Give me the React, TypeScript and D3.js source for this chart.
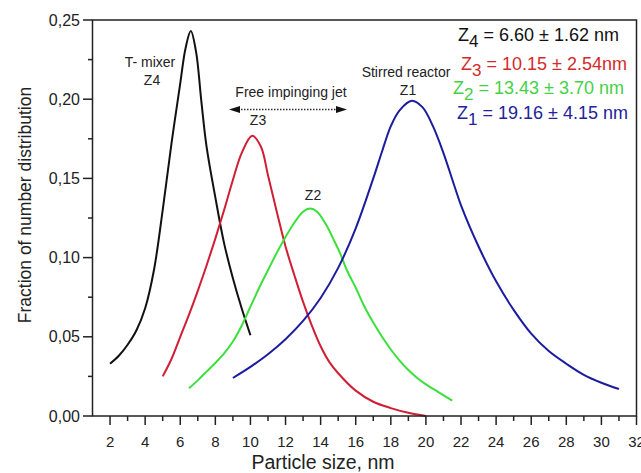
import { useEffect, useRef } from "react";
import * as d3 from "d3";

// curves: particle size (nm) -> fraction of number distribution
const z4X = [2.0, 2.5, 3.0, 3.5, 4.0, 4.5, 5.0, 5.5, 6.0, 6.3, 6.6, 6.9, 7.2, 7.5, 8.0, 8.5, 9.0, 9.5, 10.0];
const z4Y = [0.033, 0.038, 0.045, 0.054, 0.068, 0.092, 0.13, 0.172, 0.21, 0.232, 0.243, 0.23, 0.199, 0.17, 0.138, 0.109, 0.087, 0.068, 0.051];

const z3X = [5.0, 5.5, 6.0, 6.5, 7.0, 7.5, 8.0, 8.5, 9.0, 9.5, 10.1, 10.6, 11.0, 11.5, 12.0, 12.5, 13.0, 13.5, 14.0, 14.5, 15.0, 16.0, 17.0, 18.0, 19.0, 20.0];
const z3Y = [0.025, 0.036, 0.05, 0.064, 0.079, 0.095, 0.112, 0.13, 0.149, 0.166, 0.177, 0.17, 0.152, 0.129, 0.107, 0.089, 0.072, 0.057, 0.044, 0.034, 0.027, 0.016, 0.009, 0.005, 0.002, 0.0];

const z2X = [6.5, 7.0, 7.5, 8.0, 8.5, 9.0, 9.5, 10.0, 10.5, 11.0, 11.5, 12.0, 12.5, 13.0, 13.4, 13.8, 14.3, 14.8, 15.1, 15.5, 16.0, 16.5, 17.0, 17.5, 18.0, 18.5, 19.0, 19.5, 20.0, 20.8, 21.5];
const z2Y = [0.0175, 0.0225, 0.028, 0.0335, 0.0395, 0.047, 0.057, 0.069, 0.081, 0.092, 0.103, 0.113, 0.122, 0.129, 0.131, 0.129, 0.121, 0.11, 0.103, 0.092, 0.081, 0.069, 0.059, 0.05, 0.042, 0.035, 0.029, 0.024, 0.02, 0.0145, 0.0097];

const z1X = [9.0, 10.0, 11.0, 12.0, 13.0, 14.0, 15.0, 16.0, 17.0, 17.5, 18.0, 18.5, 19.2, 19.8, 20.4, 21.0, 21.6, 22.0, 23.0, 24.0, 25.0, 26.0, 27.0, 28.0, 29.0, 30.0, 31.0];
const z1Y = [0.024, 0.031, 0.039, 0.0485, 0.06, 0.0745, 0.0935, 0.1185, 0.15, 0.167, 0.183, 0.193, 0.199, 0.195, 0.183, 0.166, 0.146, 0.133, 0.107, 0.085, 0.067, 0.052, 0.041, 0.033, 0.026, 0.021, 0.017];

const seriesColors = ["#111111", "#d01e34", "#3ce03c", "#1c1c9e"];
const legendColors = ["#111111", "#d42a2a", "#46d046", "#22229a"];
const legendSub = ["4", "3", "2", "1"];
const legendText = [" = 6.60 ± 1.62 nm", " = 10.15 ± 2.54nm", " = 13.43 ± 3.70 nm", " = 19.16 ± 4.15 nm"];

const xMajor = d3.range(2, 33, 2);
const xMinor = d3.range(3, 32, 2);
const yMajor = [0, 0.05, 0.1, 0.15, 0.2, 0.25];
const yMinor = [0.025, 0.075, 0.125, 0.175, 0.225];

export default function App() {
  const ref = useRef<SVGSVGElement>(null);

  useEffect(() => {
    const svg = d3.select(ref.current);
    svg.selectAll("*").remove();
    const font = "'Liberation Sans', Arial, sans-serif";

    const x = d3.scaleLinear().domain([1, 32]).range([92.5, 636.5]);
    const y = d3.scaleLinear().domain([0, 0.25]).range([416, 20]);

    const fmt = (v: number) => d3.format(".2f")(v).replace(".", ",");

    // curves
    const line = d3
      .line<[number, number]>()
      .x((d) => x(d[0]))
      .y((d) => y(d[1]))
      .curve(d3.curveCatmullRom.alpha(0.5));

    const all = [
      [z4X, z4Y],
      [z3X, z3Y],
      [z2X, z2Y],
      [z1X, z1Y],
    ];
    all.forEach(([xs, ys], i) => {
      svg
        .append("path")
        .attr("d", line(xs.map((v, k) => [v, ys[k]] as [number, number])))
        .attr("fill", "none")
        .attr("stroke", seriesColors[i])
        .attr("stroke-width", 2);
    });

    // frame
    svg
      .append("rect")
      .attr("x", x(1))
      .attr("y", y(0.25))
      .attr("width", x(32) - x(1))
      .attr("height", y(0) - y(0.25))
      .attr("fill", "none")
      .attr("stroke", "#222")
      .attr("stroke-width", 1.5);

    const ax = svg.append("g").attr("stroke", "#222").attr("stroke-width", 1.5);
    ax.selectAll(".xM").data(xMajor).join("line")
      .attr("x1", (d) => x(d)).attr("x2", (d) => x(d))
      .attr("y1", 416).attr("y2", 425);
    ax.selectAll(".xm").data(xMinor).join("line")
      .attr("x1", (d) => x(d)).attr("x2", (d) => x(d))
      .attr("y1", 416).attr("y2", 421);
    ax.selectAll(".yM").data(yMajor).join("line")
      .attr("y1", (d) => y(d)).attr("y2", (d) => y(d))
      .attr("x1", 83).attr("x2", 92.5);
    ax.selectAll(".ym").data(yMinor).join("line")
      .attr("y1", (d) => y(d)).attr("y2", (d) => y(d))
      .attr("x1", 88).attr("x2", 92.5);

    svg.append("g").selectAll("text").data(xMajor).join("text")
      .attr("x", (d) => x(d)).attr("y", 447)
      .attr("text-anchor", "middle")
      .attr("font-family", font).attr("font-size", 15).attr("fill", "#222")
      .text((d) => d);

    svg.append("g").selectAll("text").data(yMajor).join("text")
      .attr("x", 80).attr("y", (d) => y(d) + 5.5)
      .attr("text-anchor", "end")
      .attr("font-family", font).attr("font-size", 16).attr("fill", "#222")
      .text((d) => fmt(d));

    svg.append("text")
      .attr("x", 323).attr("y", 469)
      .attr("text-anchor", "middle")
      .attr("font-family", font).attr("font-size", 19.5).attr("fill", "#222")
      .text("Particle size, nm");

    svg.append("text")
      .attr("transform", "translate(31,205) rotate(-90)")
      .attr("text-anchor", "middle")
      .attr("font-family", font).attr("font-size", 17.5).attr("fill", "#222")
      .text("Fraction of number distribution");

    // annotations
    const note = (tx: number, ty: number, s: string) =>
      svg.append("text")
        .attr("x", tx).attr("y", ty)
        .attr("text-anchor", "middle")
        .attr("font-family", font).attr("font-size", 14).attr("fill", "#222")
        .text(s);
    note(150, 67, "T- mixer");
    note(152, 85, "Z4");
    note(291, 97, "Free impinging jet");
    note(258, 125, "Z3");
    note(313, 200, "Z2");
    note(406, 77, "Stirred reactor");
    note(408, 95, "Z1");

    // double-headed dotted arrow
    const ay = 109.5;
    svg.append("line")
      .attr("x1", 238).attr("x2", 338).attr("y1", ay).attr("y2", ay)
      .attr("stroke", "#333").attr("stroke-width", 1.3)
      .attr("stroke-dasharray", "1.5,1.5");
    svg.append("path")
      .attr("d", `M229,${ay} L240,${ay - 3.5} L240,${ay + 3.5} Z M347,${ay} L336,${ay - 3.5} L336,${ay + 3.5} Z`)
      .attr("fill", "#111");

    // legend block
    const lx = [458, 461, 453, 457];
    const ly = [41, 70, 94, 119];
    legendText.forEach((s, i) => {
      const t = svg.append("text")
        .attr("x", lx[i]).attr("y", ly[i])
        .attr("font-family", font).attr("font-size", 18).attr("fill", legendColors[i]);
      t.append("tspan").text("Z");
      t.append("tspan").attr("dy", 6).attr("font-size", 17).text(legendSub[i]);
      t.append("tspan").attr("dy", -6).text(s);
    });
  }, []);

  return (
    <svg
      ref={ref}
      width={641}
      height={473}
      style={{ position: "absolute", left: 0, top: 0, background: "#fff" }}
    />
  );
}
